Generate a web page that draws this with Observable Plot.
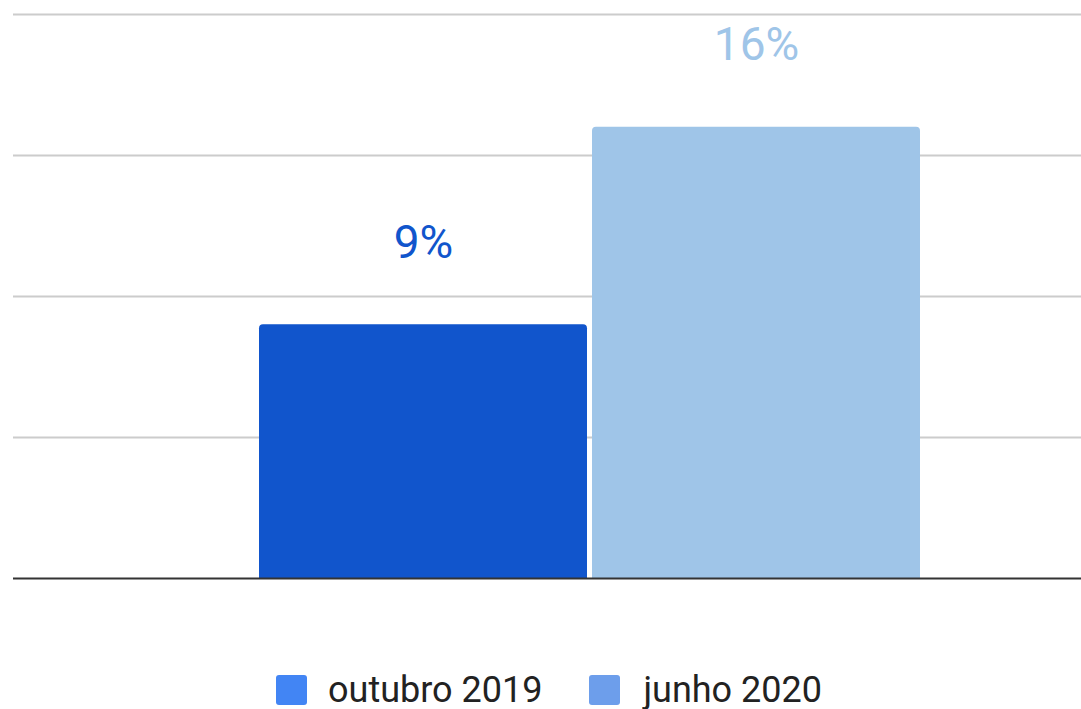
<!DOCTYPE html>
<html>
<head>
<meta charset="utf-8">
<script src="https://cdn.jsdelivr.net/npm/d3@7"></script>
<script src="https://cdn.jsdelivr.net/npm/@observablehq/plot@0.6"></script>
<style>
  html, body { margin: 0; padding: 0; background: #fff; }
  body { width: 1081px; height: 709px; overflow: hidden; font-family: Roboto, "Noto Sans", sans-serif; }
  #legend { display: flex; align-items: center; height: 30px; margin-top: 15px; padding-left: 276px; }
  .item { display: flex; align-items: center; }
  .sw { width: 31px; height: 30px; border-radius: 3px; }
  .lab { font-size: 36px; color: #222; line-height: 30px; margin-left: 21px; }
  .item + .item { margin-left: 47px; }
  .item + .item .lab { margin-left: 23px; }
</style>
</head>
<body>
<div id="chart"></div>
<div id="legend"></div>
<script>
const series = ["outubro 2019", "junho 2020"];
const values = [9, 16];
const valueLabels = ["9%", "16%"];
const barColors = ["#1155CC", "#9FC5E8"];
const legendColors = ["#4285F4", "#6D9EEB"];
const gridTicks = [5, 10, 15, 20];

const data = series.map((s, i) => ({series: s, value: values[i], label: valueLabels[i], color: barColors[i]}));

const chart = Plot.plot({
  width: 1081,
  height: 660,
  marginTop: 14,
  marginBottom: 82,
  marginLeft: 13,
  marginRight: 0,
  x: {domain: series, range: [13, 1166], paddingInner: 0.015, paddingOuter: 0.734, axis: null},
  y: {domain: [0, 20], axis: null},
  marks: [
    Plot.ruleY(gridTicks, {stroke: "#cccccc", strokeWidth: 2}),
    Plot.barY(data, {x: "series", y: "value", fill: "color", ry1: 4, rx1y1: 4, rx2y1: 4}),
    Plot.ruleY([0], {stroke: "#333333", strokeWidth: 2}),
    Plot.text(data, {x: "series", y: "value", text: "label", fill: "color", fontSize: 46, lineAnchor: "bottom", dy: -67, fontFamily: "Roboto"})
  ]
});
document.getElementById("chart").appendChild(chart);

const legend = document.getElementById("legend");
series.forEach((s, i) => {
  const item = document.createElement("div");
  item.className = "item";
  const sw = document.createElement("div");
  sw.className = "sw";
  sw.style.background = legendColors[i];
  const lab = document.createElement("span");
  lab.className = "lab";
  lab.textContent = s;
  item.appendChild(sw);
  item.appendChild(lab);
  legend.appendChild(item);
});
</script>
</body>
</html>
